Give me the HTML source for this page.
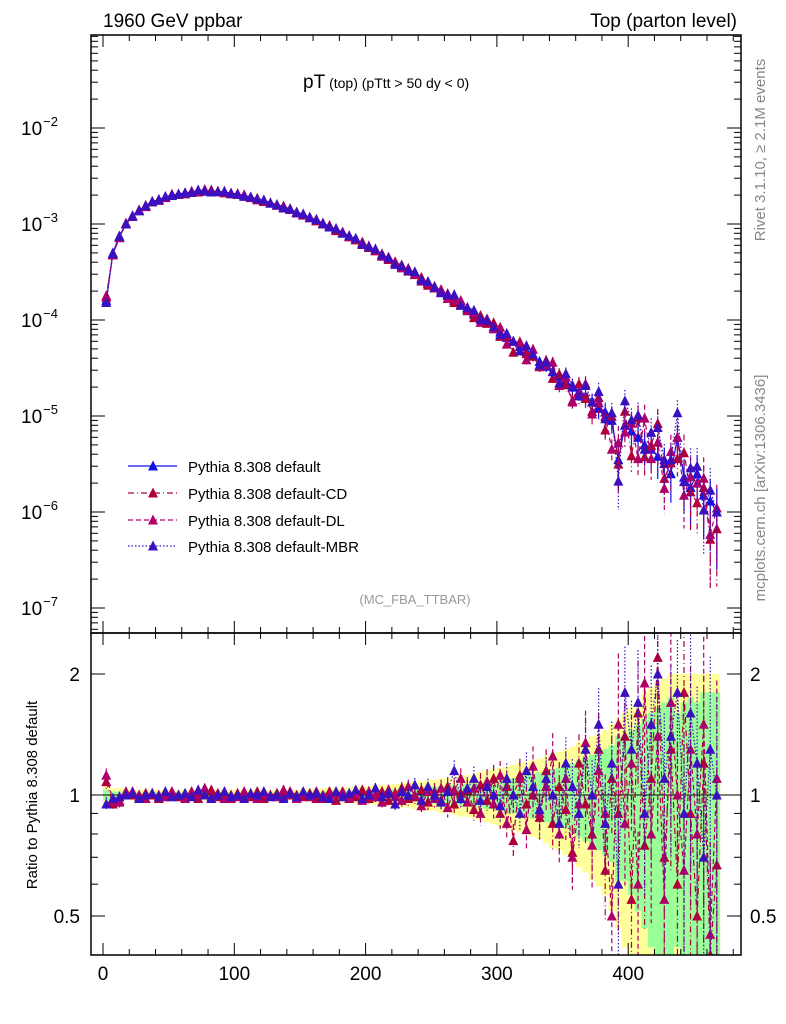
<!DOCTYPE html>
<html><head><meta charset="utf-8"><style>
html,body{margin:0;padding:0;background:#fff;width:786px;height:1024px;overflow:hidden;font-family:"Liberation Sans",sans-serif}
svg{display:block}
svg text{font-family:"Liberation Sans","DejaVu Sans",sans-serif}
</style></head><body>
<svg id="c" width="786" height="1024" xmlns="http://www.w3.org/2000/svg"></svg>
<script>
const pts=[2.5,7.5,12.5,17.5,22.5,27.5,32.5,37.5,42.5,47.5,52.5,57.5,62.5,67.5,72.5,77.5,82.5,87.5,92.5,97.5,102.5,107.5,112.5,117.5,122.5,127.5,132.5,137.5,142.5,147.5,152.5,157.5,162.5,167.5,172.5,177.5,182.5,187.5,192.5,197.5,202.5,207.5,212.5,217.5,222.5,227.5,232.5,237.5,242.5,247.5,252.5,257.5,262.5,267.5,272.5,277.5,282.5,287.5,292.5,297.5,302.5,307.5,312.5,317.5,322.5,327.5,332.5,337.5,342.5,347.5,352.5,357.5,362.5,367.5,372.5,377.5,382.5,387.5,392.5,397.5,402.5,407.5,412.5,417.5,422.5,427.5,432.5,437.5,442.5,447.5,452.5,457.5,462.5,467.5];
const mainVals=[1.6e-4,5e-4,7.5e-4,1e-3,1.2e-3,1.4e-3,1.55e-3,1.7e-3,1.8e-3,1.9e-3,2.0e-3,2.05e-3,2.1e-3,2.15e-3,2.2e-3,2.2e-3,2.2e-3,2.18e-3,2.15e-3,2.1e-3,2.05e-3,1.98e-3,1.9e-3,1.82e-3,1.75e-3,1.66e-3,1.58e-3,1.5e-3,1.42e-3,1.33e-3,1.25e-3,1.17e-3,1.1e-3,1.02e-3,9.5e-4,8.8e-4,8.1e-4,7.5e-4,6.9e-4,6.3e-4,5.8e-4,5.3e-4,4.8e-4,4.4e-4,4.0e-4,3.6e-4,3.3e-4,3.0e-4,2.7e-4,2.4e-4,2.2e-4,2.0e-4,1.8e-4,1.6e-4,1.45e-4,1.3e-4,1.15e-4,1.05e-4,9.5e-5,8.5e-5,7.5e-5,6.6e-5,6e-5,5.3e-5,4.7e-5,4.2e-5,3.7e-5,3.3e-5,2.9e-5,2.6e-5,2.3e-5,2e-5,1.8e-5,1.6e-5,1.4e-5,1.2e-5,1.1e-5,9e-6,3.5e-6,8e-6,7e-6,6e-6,5e-6,4.5e-6,3.8e-6,3.2e-6,2.5e-6,6e-6,2.3e-6,1.8e-6,2.5e-6,1.5e-6,1.3e-6,1.0e-6];
const relErr=[0.04,0.03,0.03,0.02,0.02,0.02,0.02,0.02,0.02,0.02,0.02,0.02,0.02,0.02,0.02,0.02,0.02,0.02,0.02,0.02,0.02,0.02,0.02,0.02,0.02,0.02,0.02,0.02,0.02,0.02,0.02,0.02,0.02,0.02,0.02,0.02,0.02,0.025,0.025,0.025,0.03,0.03,0.03,0.03,0.035,0.035,0.04,0.04,0.04,0.045,0.05,0.05,0.055,0.06,0.06,0.065,0.07,0.07,0.075,0.08,0.085,0.09,0.1,0.1,0.11,0.12,0.12,0.13,0.14,0.15,0.16,0.17,0.18,0.2,0.22,0.23,0.25,0.27,0.5,0.3,0.32,0.35,0.38,0.4,0.42,0.45,0.5,0.35,0.55,0.6,0.55,0.65,0.7,0.75];
const ratioCD=[1.08,0.95,0.97,1.02,1.0,0.99,1.01,1.0,0.98,1.0,1.01,0.99,1.0,1.02,0.98,1.0,1.03,0.99,1.0,0.98,1.01,1.0,0.99,1.02,0.98,1.0,1.01,0.99,1.02,1.0,0.99,1.01,0.98,1.0,1.02,0.97,1.01,1.0,0.99,1.03,0.98,1.0,1.02,0.97,1.01,1.04,0.98,0.99,1.03,0.96,1.02,0.97,1.05,0.95,1.01,1.03,0.92,1.06,0.97,1.1,0.9,1.05,0.77,1.12,0.95,1.0,0.88,1.15,0.85,1.05,0.92,0.72,1.2,0.95,0.8,1.3,0.65,1.1,0.9,1.4,0.55,1.6,0.75,1.1,2.2,0.7,1.3,0.6,1.8,0.9,0.5,1.2,0.4,0.67];
const ratioDL=[1.12,0.97,0.96,1.01,1.02,1.0,0.98,1.01,1.0,0.99,1.02,1.0,0.98,1.01,1.0,1.04,0.99,1.01,0.98,1.0,0.99,1.02,1.0,0.98,1.01,1.0,0.99,1.03,1.0,0.98,1.01,0.99,1.02,0.98,1.0,1.01,1.02,0.98,1.01,0.97,1.02,0.99,0.96,1.03,0.99,0.97,1.05,1.0,0.94,1.02,0.98,1.04,0.93,1.03,1.1,0.96,1.04,0.9,1.08,0.95,1.12,0.85,1.0,1.1,0.82,1.18,0.9,1.05,1.25,0.8,1.1,0.7,0.95,1.35,0.75,1.15,0.9,0.5,1.5,0.85,1.2,0.6,1.9,0.8,1.4,0.55,1.7,1.0,0.65,1.3,0.8,1.5,0.45,1.1];
const ratioMBR=[0.95,0.98,0.99,1.0,1.01,0.98,1.0,1.01,0.99,1.02,0.99,1.0,1.01,0.99,1.03,1.0,0.98,1.0,1.02,0.99,1.0,0.98,1.01,1.0,1.02,0.99,1.0,0.98,1.01,0.99,1.02,1.0,1.01,0.99,0.98,1.02,0.99,1.01,1.03,0.98,1.0,1.04,0.99,1.01,0.95,1.02,1.0,1.06,0.97,1.05,1.0,0.96,1.02,1.15,0.98,1.04,1.1,0.97,1.05,1.0,0.94,1.1,1.0,0.9,1.15,1.05,0.92,1.1,1.0,0.85,1.2,1.05,0.9,1.3,1.0,1.5,0.85,1.2,0.6,1.8,1.3,1.7,0.9,1.5,2.0,1.1,1.4,1.8,0.9,1.6,1.2,0.7,1.3,1.0];
const bandY=[0.06,0.04,0.04,0.03,0.03,0.03,0.03,0.03,0.03,0.03,0.03,0.03,0.03,0.03,0.03,0.03,0.03,0.03,0.03,0.03,0.03,0.03,0.03,0.03,0.03,0.03,0.03,0.03,0.03,0.03,0.035,0.035,0.035,0.04,0.04,0.04,0.045,0.045,0.05,0.05,0.05,0.055,0.06,0.06,0.065,0.07,0.07,0.08,0.08,0.09,0.09,0.1,0.1,0.11,0.12,0.12,0.13,0.14,0.15,0.16,0.17,0.18,0.19,0.2,0.21,0.22,0.23,0.25,0.27,0.28,0.3,0.32,0.35,0.37,0.4,0.42,0.45,0.5,0.55,0.6,0.65,0.7,0.8,0.85,0.9,0.95,1.0,1.0,1.0,1.0,1.0,1.0,1.0,1.0];
const bandG=[0.03,0.02,0.02,0.015,0.015,0.015,0.015,0.015,0.015,0.015,0.015,0.015,0.015,0.015,0.015,0.015,0.015,0.015,0.015,0.015,0.015,0.015,0.015,0.015,0.015,0.015,0.015,0.015,0.015,0.015,0.02,0.02,0.02,0.02,0.02,0.02,0.02,0.025,0.025,0.025,0.03,0.03,0.03,0.03,0.035,0.035,0.04,0.04,0.045,0.045,0.05,0.05,0.055,0.06,0.06,0.065,0.07,0.07,0.08,0.08,0.09,0.1,0.1,0.11,0.12,0.13,0.14,0.15,0.16,0.17,0.18,0.2,0.22,0.24,0.26,0.28,0.3,0.33,0.4,0.4,0.45,0.5,0.55,0.6,0.65,0.7,0.75,0.6,0.7,0.75,0.7,0.8,0.8,0.8];
const xTicks=[0,100,200,300,400];
const yExp=[-2,-3,-4,-5,-6,-7];
const rTicks=[0.5,1,2];

const NS="http://www.w3.org/2000/svg",S=document.getElementById('c');
const L=91,R=741,T=35,MB=633,RB=955;
const cl=(y,a,b)=>Math.min(Math.max(y,a),b);
const xs=v=>103+v*1.313;
const ym=v=>cl(128-(Math.log10(Math.max(v,1e-12))+2)*96,T-5,MB+5);
const yr=v=>cl(795-Math.log2(Math.max(v,0.01))*121,MB-5,RB+5);
function el(t,a,p){const e=document.createElementNS(NS,t);for(const k in a)e.setAttribute(k,a[k]);(p||S).appendChild(e);return e;}
const series=[
 {name:'default',vals:pts.map((p,i)=>mainVals[i]),r:pts.map(()=>1),col:'#1010e8',dash:''},
 {name:'cd',vals:pts.map((p,i)=>mainVals[i]*ratioCD[i]),r:ratioCD,col:'#b00038',dash:'6,3,1,3'},
 {name:'dl',vals:pts.map((p,i)=>mainVals[i]*ratioDL[i]),r:ratioDL,col:'#b00068',dash:'5,3'},
 {name:'mbr',vals:pts.map((p,i)=>mainVals[i]*ratioMBR[i]),r:ratioMBR,col:'#3a10c0',dash:'1.5,2'}];
const d=el('defs',{});
const c1=el('clipPath',{id:'cm'},d);el('rect',{x:L,y:T,width:R-L,height:MB-T},c1);
const c2=el('clipPath',{id:'cr'},d);el('rect',{x:L,y:MB,width:R-L,height:RB-MB},c2);
const gb=el('g',{'clip-path':'url(#cr)'});


pts.forEach((p,i)=>{
 const x0=xs(p-2.5),w=xs(p+2.5)-x0;
 const r1=el('rect',{x:x0,y:yr(1+bandY[i]),width:w,height:yr(1-bandY[i]*0.97)-yr(1+bandY[i]),fill:'#ffff99'},gb);
 
 
 const r2=el('rect',{x:x0,y:yr(1+bandG[i]),width:w,height:yr(1-bandG[i]*0.97)-yr(1+bandG[i]),fill:'#99ff99'},gb);
 
 
});
el('line',{x1:L,x2:R,y1:yr(1),y2:yr(1),stroke:'#000','stroke-width':1});
function tri(g,x,y,c){el('path',{d:`M${x-5},${y+4.5}L${x+5},${y+4.5}L${x},${y-5.5}Z`,fill:c},g);}
series.forEach(s=>{
 const gm=el('g',{'clip-path':'url(#cm)'});
 
 
 const gr=el('g',{'clip-path':'url(#cr)'});
 
 
 el('polyline',{points:pts.map((p,i)=>xs(p)+','+ym(s.vals[i])).join(' '),fill:'none',stroke:s.col,'stroke-width':1.2,'stroke-dasharray':s.dash},gm);
 if(s.name!=='default')el('polyline',{points:pts.map((p,i)=>xs(p)+','+yr(s.r[i])).join(' '),fill:'none',stroke:s.col,'stroke-width':1.2,'stroke-dasharray':s.dash},gr);
 pts.forEach((p,i)=>{
  const v=s.vals[i],e=relErr[i];
  const x=xs(p),y=ym(v);
  const lo=Math.max(v*(1-e),1e-9);
  el('line',{x1:x,x2:x,y1:ym(v*(1+e)),y2:ym(lo),stroke:s.col,'stroke-width':1.2,'stroke-dasharray':s.dash},gm);
  tri(gm,x,y,s.col);
  if(s.name!=='default'){
   const rv=s.r[i],re=rv*e;
   el('line',{x1:x,x2:x,y1:yr(rv+re),y2:yr(Math.max(rv-re,0.05)),stroke:s.col,'stroke-width':1.2,'stroke-dasharray':s.dash},gr);
   tri(gr,x,yr(rv),s.col);
  }
 });
});
el('rect',{x:L,y:T,width:R-L,height:MB-T,fill:'none',stroke:'#000','stroke-width':1.5});
el('rect',{x:L,y:MB,width:R-L,height:RB-MB,fill:'none',stroke:'#000','stroke-width':1.5});
function txt(s,a,name){const t=el('text',a);t.textContent=s;return t;}
for(let v=0;v<=480;v+=20){const x=xs(v),big=v%100===0,h=big?12:6;
 [MB,RB].forEach(b=>el('line',{x1:x,x2:x,y1:b,y2:b-h,stroke:'#000'}));
 [T,MB].forEach(t=>el('line',{x1:x,x2:x,y1:t,y2:t+h,stroke:'#000'}));}
xTicks.forEach(v=>txt(v,{x:xs(v),y:980,'font-size':19,'text-anchor':'middle'},'x-tick-label'));
for(let e=-8;e<=-1;e++)for(let m=1;m<=9;m++){const v=m*Math.pow(10,e),y=128-(Math.log10(v)+2)*96;if(y<T||y>MB)continue;const h=m===1?14:7;
 el('line',{x1:L,x2:L+h,y1:y,y2:y,stroke:'#000'});el('line',{x1:R,x2:R-h,y1:y,y2:y,stroke:'#000'});}
yExp.forEach(e=>{const t=txt('10',{x:58,y:ym(Math.pow(10,e))+7,'font-size':19,'text-anchor':'end'},'y-tick-label');
 const s=el('tspan',{dx:1,dy:-9,'font-size':13},t);s.textContent='−'+(-e);});
[0.4,0.5,0.6,0.7,0.8,0.9,1,2].forEach(v=>{const y=795-Math.log2(v)*121,big=(v===0.5||v===1||v===2),h=big?14:7;if(y>RB)return;
 el('line',{x1:L,x2:L+h,y1:y,y2:y,stroke:'#000'});el('line',{x1:R,x2:R-h,y1:y,y2:y,stroke:'#000'});});
rTicks.forEach(v=>{txt(v,{x:80,y:yr(v)+7,'font-size':19,'text-anchor':'end'},'ratio-tick-label');
 txt(v,{x:750,y:yr(v)+7,'font-size':19},'ratio-tick-label-right');});
txt('1960 GeV ppbar',{x:103,y:27,'font-size':19},'beam-label');
txt('Top (parton level)',{x:737,y:27,'font-size':19,'text-anchor':'end'},'process-label');
const tt=txt('pT',{x:303,y:88,'font-size':19},'plot-title');
const t2=el('tspan',{'font-size':14},tt);t2.textContent=' (top)  (pTtt > 50 dy < 0)';
txt('(MC_FBA_TTBAR)',{x:415,y:604,'font-size':13,fill:'#999','text-anchor':'middle'},'analysis-label');
txt('Ratio to Pythia 8.308 default',{x:0,y:0,'font-size':15,'text-anchor':'middle',transform:'translate(37,795) rotate(-90)'},'ratio-y-axis-title');
txt('Rivet 3.1.10, ≥ 2.1M events',{x:0,y:0,'font-size':15,fill:'#888','text-anchor':'middle',transform:'translate(765,150) rotate(-90)'},'rivet-label');
txt('mcplots.cern.ch [arXiv:1306.3436]',{x:0,y:0,'font-size':15,fill:'#888','text-anchor':'middle',transform:'translate(765,488) rotate(-90)'},'mcplots-label');
const names=['Pythia 8.308 default','Pythia 8.308 default-CD','Pythia 8.308 default-DL','Pythia 8.308 default-MBR'];
[466,493,520,546].forEach((y,i)=>{const s=series[i];
 const g=el('g',{});
 
 
 el('line',{x1:128,x2:177,y1:y,y2:y,stroke:s.col,'stroke-width':1.2,'stroke-dasharray':s.dash},g);
 tri(g,153,y,s.col);
 const t=el('text',{x:188,y:y+6,'font-size':15},g);t.textContent=names[i];});
</script>
</body></html>
